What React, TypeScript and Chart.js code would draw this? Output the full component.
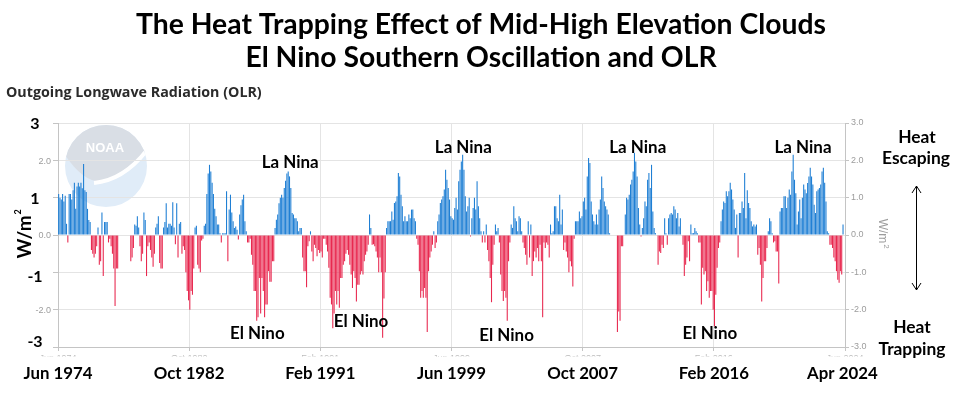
import React, { useEffect, useRef } from "react";
import { Chart, registerables } from "chart.js";

Chart.register(...registerables);

// Monthly OLR index (W/m^2), Jun 1974 .. Apr 2024
const olr1974to1982 = [
  1.1, 1.0, 0.95, 1.1, 0.9, 1.05, 0.3, -0.2, 1.1, 1.1,
  0.95, 1.2, 1.4, 0.7, 1.3, 1.4, 1.3, 1.4, 1.25, 1.9,
  1.2, 1.15, 0.7, 0.4, 0.35, -0.4, -0.5, -0.6, -0.5, -0.3,
  0.2, -0.8, -0.7, 0.6, -1.1, 0.35, 0.35, 0.35, -0.2, -0.1,
  -0.3, -0.5, -0.9, -1.9, -0.9, -0.9, 0, 0, 0, 0,
  0, 0, 0, 0, 0, -0.7, -0.6, -0.35, 0.28, 0.25,
  0.5, 0.2, -0.3, -0.7, -0.5, 0.6, 0.4, -1.1, -0.3, -0.2,
  -0.4, -0.6, -0.85, -0.5, 0.2, 0.3, 0.5, -0.75, -0.9, -0.9,
  0.2, 0.35, 0.85, 0.2, 0.3, 0.3, 0.25, 0.88, 0.2, -0.25,
  0.85, -0.6, 0.3, 0.35, -0.5, -0.3, -0.4, -1.0, -1.5, -1.75,
];
const olr1982to1991 = [
  -2.0, -1.5, -1.6, -0.9, 0.2, 0.25, -0.8, -0.9, -1.0, -0.15,
  -0.1, 0.25, 0.3, 1.1, 1.65, 1.88, 1.7, 1.4, 1.1, 0.7,
  0.5, 0.28, 0.28, 0.05, -0.2, 0.05, 0.05, 0.05, 1.17, -0.7,
  0.68, 1.08, 0.6, 0.37, 0.19, 0.23, 0.14, -0.12, 0.55, 0.8,
  0.95, 1.08, 0.37, 0.1, -0.2, -0.2, -0.1, -0.53, -0.8, -1.5,
  -1.5, -2.3, -2.2, -1.15, -2.1, -1.15, -1.5, -2.2, -1.86, -1.86,
  -0.97, -1.25, -1.25, -0.7, -0.7, 0.19, 0.41, 0.55, 0.85, 1.0,
  1.08, 1.0, 1.26, 1.45, 1.65, 1.7, 1.57, 1.26, 0.59, 0.55,
  0.45, 0.45, 0.37, 0.1, 0.19, 0.19, -0.6, -0.97, -0.97, -1.4,
  -0.3, -0.17, 0.1, -0.44, -0.7, -0.26, -0.35, -0.57, -0.4, -0.48,
];
const olr1991to1999 = [
  -0.44, -0.6, -0.1, -0.1, -0.26, -0.44, -0.88, -1.68, -1.86, -2.5,
  -2.1, -1.5, -1.86, -1.5, -1.95, -1.15, -1.15, -0.8, -0.7, -0.5,
  -0.4, -0.53, -0.8, -1.06, -1.42, -0.97, -1.15, -1.78, -1.33, -1.33,
  -1.06, -0.97, -1.06, -0.7, -0.53, -0.44, -0.26, 0.55, 0.19, -0.26,
  -0.25, -0.3, -0.44, -0.6, -1.0, -0.6, -1.0, -2.75, -1.7, -1.0,
  0.19, 0.37, 0.37, 0.37, 0.63, 0.41, 0.86, 0.9, 1.04, 1.66,
  1.57, 1.08, 0.77, 0.37, 0.5, 0.37, 0.37, 0.55, 0.45, 0.68,
  0.68, 0.45, 0.37, -0.1, -0.26, -0.97, -1.68, -1.5, -1.68, -1.42,
  -1.68, -2.6, -0.97, -0.6, -0.44, -0.26, 0.1, -0.35, -0.2, 0.37,
  0.55, 0.86, 0.95, 1.04, 1.22, 1.75, 1.48, 1.26, 0.95, 0.5,
];
const olr1999to2007 = [
  0.45, 0.41, 0.72, 1.0, 0.68, 1.44, 1.75, 1.97, 2.15, 1.75,
  1.04, 0.63, 0.77, 1.0, -0.04, 0.45, 0.72, 1.0, 0.68, 1.44,
  0.77, 0.45, 0.1, -0.2, 0.1, -0.2, 0.28, -0.4, -0.7, -1.15,
  -1.8, -0.8, -0.26, 0.28, 0.1, 0.19, -0.2, -1.06, -1.5, -1.77,
  -1.5, -1.68, -2.3, -0.7, -0.2, 0.28, 0.19, 0.77, 0.45, 0.37,
  0.1, 0.5, 0.45, 0.1, -0.2, -0.35, -0.53, -0.8, 0.37, -0.6,
  0.28, -1.1, -0.7, -0.44, -0.6, -0.35, -0.7, -0.26, -0.7, -2.2,
  -0.2, -0.35, -0.2, -0.26, -0.6, 0.28, 0.05, 0.1, 0.77, 0.77,
  0.45, 0.37, 1.08, 0.28, 0.68, -0.4, -0.2, -0.44, -0.6, -1.0,
  -0.7, -0.84, -1.38, -0.1, 0.37, 0.37, 0.37, 0.63, 0.45, 0.5,
];
const olr2007to2016 = [
  0.9, 1.0, 0.68, 1.57, 2.06, 1.93, 0.9, 0.55, 0.37, 0.28,
  0.55, 0.28, 0.68, 0.95, 1.57, 1.26, 0.9, 0.77, 0.68, 0.55,
  0.05, 0, 0, 0, 0, 0, -2.6, -2.05, -2.3, -0.3,
  -0.3, 0, 0.55, 1.0, 0.95, 1.08, 1.35, 1.48, 1.7, 2.2,
  1.97, 1.57, 0.72, 0.28, -0.04, 0.19, 0.45, 0.9, 0.77, 1.48,
  1.66, 1.26, 1.88, 0.63, 0.19, 0.05, 0, -0.8, -0.44, -0.48,
  -0.26, -0.35, 0.45, 0.05, -0.26, 0.45, 0.55, 0.59, 0.55, 0.77,
  0.68, 0.45, 0.59, 0.23, 0.45, 0, -0.26, -1.1, -0.8, -0.6,
  -0.17, -0.7, 0.28, 0.05, 0.05, 0.19, 0.1, 0.05, -0.2, -0.2,
  -1.86, -0.88, -1.06, -0.97, -1.5, -1.24, -1.68, -1.5, -1.5, -2.0,
];
const olr2016to2024 = [
  -2.45, -1.6, -0.88, -0.35, -0.2, 0.37, 0.68, 0.9, 0.86, 1.17,
  1.04, 1.17, 1.4, 1.22, 0.95, 0.68, 0.19, 0.55, -0.6, 0.59,
  0.59, 0.9, 0.72, 1.66, 0.45, 1.2, 0.86, 0.72, 0.37, 0.23,
  0.28, 0.23, 0.28, -0.53, -0.35, -0.8, -1.78, -1.15, -0.7, -0.7,
  -0.35, 0.1, 0.45, 0.37, 0.05, -0.2, -0.17, -0.44, -0.44, -1.3,
  0.63, 0.72, 0.72, 1.04, 1.04, 0.72, 1.0, 1.22, 1.08, 1.7,
  2.15, 1.48, 1.12, 0.28, 0.63, 0.95, 0.45, 1.0, 1.35, 1.22,
  1.12, 1.39, 1.57, 1.8, 1.57, 1.35, 0.81, 0.59, 1.17, 1.22,
  1.26, 1.35, 1.7, 1.8, 1.4, 0.9, 0.1, 0.05, -0.26, -0.26,
  -0.35, -0.6, -0.7, -0.97, -1.2, -1.28, -0.97, -1.06, 0.28,
];

const olrValues = [
  ...olr1974to1982,
  ...olr1982to1991,
  ...olr1991to1999,
  ...olr1999to2007,
  ...olr2007to2016,
  ...olr2016to2024,
];

// Axis labels (month offsets from Jun 1974)
const bigTickMonths = [0, 100, 200, 300, 400, 500, 598];
const bigTickLabels = ["Jun 1974", "Oct 1982", "Feb 1991", "Jun 1999", "Oct 2007", "Feb 2016", "Apr 2024"];
const faintTickMonths = [0, 100, 200, 300, 400, 500, 600];
const faintTickLabels = ["Jun 1974", "Oct 1982", "Feb 1991", "Jun 1999", "Oct 2007", "Feb 2016", "Jun 2024"];
const bigYLabels = ["3", "1", "-1", "-3"];
const bigYValues = [3, 0.98, -1.1, -2.85];
const leftGrayTicks = [2, 0, -2];

// Annotations (month, value)
const laNinaMonths = [177, 309, 442, 568];
const laNinaValues = [1.95, 2.36, 2.36, 2.36];
const elNinoMonths = [152, 231, 342, 497];
const elNinoValues = [-2.63, -2.3, -2.68, -2.63];

const BLUE = "#1f7fd4";
const RED = "#e8284f";
const GRID = "#e4e4e4";
const AXIS = "#c4c4c4";
const TICKTXT = "#9c9c9c";
const BOLD = "Lato";

function fitFont(ctx: CanvasRenderingContext2D, text: string, family: string, weight: string, width: number) {
  ctx.font = `${weight} 100px "${family}"`;
  const w = ctx.measureText(text).width;
  return (100 * width) / w;
}

function drawCentered(ctx: CanvasRenderingContext2D, text: string, x: number, capCenterY: number, size: number, family: string, weight: string, color: string, align: CanvasTextAlign = "center") {
  ctx.font = `${weight} ${size}px "${family}"`;
  ctx.fillStyle = color;
  ctx.textAlign = align;
  ctx.textBaseline = "alphabetic";
  ctx.fillText(text, x, capCenterY + size * 0.36);
}

const overlayPlugin = {
  id: "overlay",
  beforeDraw(chart: any) {
    const ctx: CanvasRenderingContext2D = chart.ctx;
    // NOAA watermark
    const cx = 106, cy = 166, r = 41;
    ctx.save();
    ctx.beginPath();
    ctx.arc(cx, cy, r, 0, Math.PI * 2);
    ctx.clip();
    ctx.fillStyle = "#e0ecf8";
    ctx.fillRect(cx - r, cy - r, 2 * r, 2 * r);
    ctx.beginPath();
    ctx.moveTo(cx - r - 2, cy - 14);
    ctx.quadraticCurveTo(cx - 20, cy + 22, cx + 2, cy + 14);
    ctx.quadraticCurveTo(cx + 22, cy + 4, cx + r + 2, cy - 18);
    ctx.lineTo(cx + r + 2, cy - r - 2);
    ctx.lineTo(cx - r - 2, cy - r - 2);
    ctx.closePath();
    ctx.fillStyle = "#d9dee5";
    ctx.fill();
    ctx.beginPath();
    ctx.moveTo(cx - 12, cy + 17);
    ctx.quadraticCurveTo(cx + 18, cy + 14, cx + r, cy - 16);
    ctx.strokeStyle = "#ffffff";
    ctx.lineWidth = 4;
    ctx.stroke();
    ctx.restore();
    ctx.save();
    ctx.font = `bold 13px "Liberation Sans"`;
    ctx.fillStyle = "#ffffff";
    ctx.textAlign = "center";
    ctx.textBaseline = "alphabetic";
    ctx.fillText("NOAA", cx - 1, cy - 14);
    ctx.restore();
  },
  afterDraw(chart: any) {
    const ctx: CanvasRenderingContext2D = chart.ctx;
    const xs = chart.scales.x;
    const ys = chart.scales.y;
    ctx.save();

    // Title
    const tSize = fitFont(ctx, "The Heat Trapping Effect of Mid-High Elevation Clouds", BOLD, "bold", 690);
    drawCentered(ctx, "The Heat Trapping Effect of Mid-High Elevation Clouds", 481, 24, tSize, BOLD, "bold", "#000");
    drawCentered(ctx, "El Nino Southern Oscillation and OLR", 481, 57, tSize, BOLD, "bold", "#000");

    // Subtitle
    const sSize = fitFont(ctx, "Outgoing Longwave Radiation (OLR)", "Open Sans", "bold", 256);
    drawCentered(ctx, "Outgoing Longwave Radiation (OLR)", 6, 92, sSize, "Open Sans", "bold", "#2b2b2b", "left");

    // Left gray tick labels
    leftGrayTicks.forEach((v) => {
      drawCentered(ctx, v.toFixed(1), 51, ys.getPixelForValue(v), 9, "Liberation Sans", "normal", TICKTXT, "right");
    });

    // Big left numbers
    bigYLabels.forEach((t, i) => {
      drawCentered(ctx, t, 35, ys.getPixelForValue(bigYValues[i]), 16, BOLD, "bold", "#000");
    });

    // Left W/m2
    ctx.save();
    ctx.translate(24, 237);
    ctx.rotate(-Math.PI / 2);
    ctx.font = `bold 19px "${BOLD}"`;
    const wm = ctx.measureText("W/m").width;
    ctx.fillStyle = "#000";
    ctx.textAlign = "left";
    ctx.textBaseline = "alphabetic";
    ctx.fillText("W/m", -wm / 2, 7);
    ctx.font = `bold 9px "${BOLD}"`;
    ctx.fillText("2", wm / 2 + 1, -3);
    ctx.restore();

    // Right W/m2
    ctx.save();
    ctx.translate(883, 234);
    ctx.rotate(Math.PI / 2);
    ctx.font = `12px "Liberation Sans"`;
    const wr = ctx.measureText("W/m").width;
    ctx.fillStyle = TICKTXT;
    ctx.textAlign = "left";
    ctx.textBaseline = "alphabetic";
    ctx.fillText("W/m", -wr / 2 - 3, 4);
    ctx.font = `8px "Liberation Sans"`;
    ctx.fillText("2", wr / 2 - 2, -1);
    ctx.restore();

    // Faint original x tick labels (tops only, mostly hidden)
    ctx.save();
    ctx.beginPath();
    ctx.rect(0, 354, 964, 2.5);
    ctx.clip();
    faintTickMonths.forEach((m, i) => {
      drawCentered(ctx, faintTickLabels[i], xs.getPixelForValue(m), 357.5, 9, "Liberation Sans", "normal", "#bdbdbd");
    });
    ctx.restore();

    // Big bottom labels
    const bSize = fitFont(ctx, "Jun 1974", BOLD, "bold", 69);
    bigTickMonths.forEach((m, i) => {
      drawCentered(ctx, bigTickLabels[i], xs.getPixelForValue(m), 373, bSize, BOLD, "bold", "#000");
    });

    // Annotations
    const aSize = fitFont(ctx, "La Nina", BOLD, "bold", 57);
    laNinaMonths.forEach((m, i) => {
      drawCentered(ctx, "La Nina", xs.getPixelForValue(m), ys.getPixelForValue(laNinaValues[i]), aSize, BOLD, "bold", "#000");
    });
    elNinoMonths.forEach((m, i) => {
      drawCentered(ctx, "El Nino", xs.getPixelForValue(m), ys.getPixelForValue(elNinoValues[i]), aSize, BOLD, "bold", "#000");
    });

    // Right side heat labels
    const hSize = fitFont(ctx, "Escaping", BOLD, "bold", 68);
    drawCentered(ctx, "Heat", 917, 137, hSize, BOLD, "bold", "#000");
    drawCentered(ctx, "Escaping", 916, 158, hSize, BOLD, "bold", "#000");
    drawCentered(ctx, "Heat", 912, 327, hSize, BOLD, "bold", "#000");
    drawCentered(ctx, "Trapping", 912, 349, hSize, BOLD, "bold", "#000");

    // Double arrow
    ctx.strokeStyle = "#000";
    ctx.lineWidth = 1;
    ctx.beginPath();
    ctx.moveTo(916.5, 186);
    ctx.lineTo(916.5, 290);
    ctx.moveTo(912, 193);
    ctx.lineTo(916.5, 186);
    ctx.lineTo(921, 193);
    ctx.moveTo(912, 283);
    ctx.lineTo(916.5, 290);
    ctx.lineTo(921, 283);
    ctx.stroke();

    ctx.restore();
  },
};

export default function App() {
  const canvasRef = useRef<HTMLCanvasElement | null>(null);

  useEffect(() => {
    const canvas = canvasRef.current;
    if (!canvas) return;
    const points = olrValues.map((v, i) => ({ x: i + 0.5, y: v }));
    const chart = new Chart(canvas, {
      type: "bar",
      data: {
        datasets: [
          {
            data: points as any,
            backgroundColor: olrValues.map((v) => (v >= 0 ? BLUE : RED)),
            borderWidth: 0,
            barPercentage: 0.82,
            categoryPercentage: 1,
            xAxisID: "x",
            yAxisID: "y",
          },
        ],
      },
      options: {
        responsive: false,
        animation: false,
        layout: { padding: { top: 123, left: 0, right: 0, bottom: 0 } },
        plugins: {
          legend: { display: false },
          tooltip: { enabled: false },
          title: { display: false },
        },
        scales: {
          x: {
            type: "linear",
            min: 0,
            max: 600,
            offset: false,
            position: "bottom",
            grid: { color: GRID, offset: false, tickLength: 4, tickColor: AXIS },
            border: { color: AXIS },
            ticks: { stepSize: 100, display: false },
            afterFit: (s: any) => {
              s.height = 49;
            },
          },
          y: {
            position: "left",
            min: -3,
            max: 3,
            grid: { color: GRID, tickLength: 5, tickColor: AXIS },
            border: { color: AXIS },
            ticks: { stepSize: 1, display: false },
            afterFit: (s: any) => {
              s.width = 58;
            },
          },
          y2: {
            position: "right",
            min: -3,
            max: 3,
            grid: { drawOnChartArea: false, tickLength: 4, color: AXIS },
            border: { color: AXIS },
            ticks: {
              stepSize: 1,
              color: TICKTXT,
              padding: 2,
              font: { size: 9, family: "Liberation Sans" },
              callback: (v: any) => Number(v).toFixed(1),
            },
            afterFit: (s: any) => {
              s.width = 119;
            },
          },
        },
      } as any,
      plugins: [overlayPlugin],
    });
    return () => chart.destroy();
  }, []);

  return (
    <div style={{ position: "absolute", left: 0, top: 0, width: 964, height: 396, background: "#fff" }}>
      <canvas ref={canvasRef} width={964} height={396} style={{ display: "block", width: 964, height: 396 }} />
    </div>
  );
}
